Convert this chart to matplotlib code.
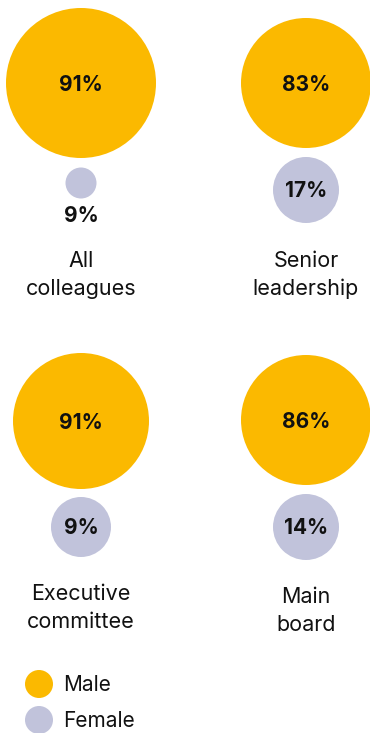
import matplotlib.pyplot as plt
from matplotlib.patches import Circle

# Data
groups = ['All\ncolleagues', 'Senior\nleadership', 'Executive\ncommittee', 'Main\nboard']
male = [91, 83, 91, 86]
female = [9, 17, 9, 14]
series = ['Male', 'Female']

# Style / layout (pixel units, y down)
MALE_C = '#FBB900'
FEMALE_C = '#C1C3DB'
plt.rcParams['font.family'] = ['Inter', 'DejaVu Sans']

col_x = [81, 306, 81, 306]
male_y = [83, 83, 421, 420]
male_r = [75, 65, 68, 65]
female_y = [183, 190, 527, 527]
female_r = [15.5, 33, 30, 33]
label_y = [275, 275, 608, 611]

fig = plt.figure(figsize=(3.7, 7.33), dpi=100)
ax = fig.add_axes([0, 0, 1, 1])
ax.set_xlim(0, 370)
ax.set_ylim(733, 0)
ax.set_aspect('equal')
ax.axis('off')

for i, g in enumerate(groups):
    x = col_x[i]
    ax.add_patch(Circle((x, male_y[i]), male_r[i], color=MALE_C, lw=0))
    ax.text(x, male_y[i] + 2, f'{male[i]}%', ha='center', va='center',
            fontsize=15, fontweight='bold', color='#111111')
    ax.add_patch(Circle((x, female_y[i]), female_r[i], color=FEMALE_C, lw=0))
    if female_r[i] < 22:
        ax.text(x, female_y[i] + 33, f'{female[i]}%', ha='center', va='center',
                fontsize=15, fontweight='bold', color='#111111')
    else:
        ax.text(x, female_y[i] + 1, f'{female[i]}%', ha='center', va='center',
                fontsize=15, fontweight='bold', color='#111111')
    ax.text(x, label_y[i], g, ha='center', va='center', fontsize=15.5,
            color='#111111', linespacing=1.5)

# Legend
for j, (name, c) in enumerate(zip(series, [MALE_C, FEMALE_C])):
    y = 684 + j * 36
    ax.add_patch(Circle((39, y), 14, color=c, lw=0))
    ax.text(63, y + 1, name, ha='left', va='center', fontsize=15, color='#111111')

fig.savefig('out.png', dpi=100)
